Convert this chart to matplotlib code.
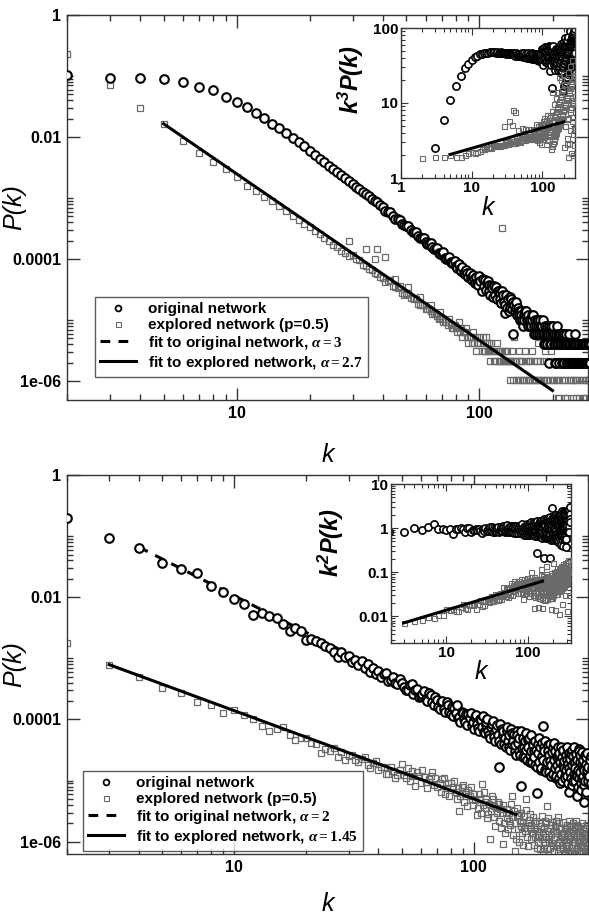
import numpy as np
import matplotlib
matplotlib.use("Agg")
import matplotlib.pyplot as plt
from matplotlib.lines import Line2D
from matplotlib.ticker import FixedLocator, LogLocator, FuncFormatter, NullFormatter

plt.rcParams["font.family"] = ["Liberation Sans", "DejaVu Sans"]
plt.rcParams["font.weight"] = "bold"
plt.rcParams["mathtext.fontset"] = "custom"
plt.rcParams["mathtext.rm"] = "Liberation Serif"
plt.rcParams["mathtext.it"] = "Liberation Serif:italic"
plt.rcParams["mathtext.bf"] = "Liberation Sans:bold:italic"
plt.rcParams["lines.scale_dashes"] = False

# ---- data: (k, P(k)) ----
# upper panel, original network
top_orig = [
    (2, 0.105), (3, 0.093), (4, 0.093), (5, 0.089), (6, 0.079), (7, 0.066), (8, 0.058), (9, 0.046), (10, 0.038),
    (11, 0.031), (12, 0.0245), (13, 0.0204), (14, 0.0166), (15, 0.0138), (16, 0.0115), (17, 0.0095), (18, 0.0082),
    (19, 0.0070), (20, 0.0060), (21, 5.1e-3), (22, 4.4e-3), (23, 3.9e-3), (24, 3.4e-3), (25, 3.0e-3), (26, 2.7e-3),
    (27, 2.35e-3), (28, 2.1e-3), (29, 1.9e-3), (30, 1.72e-3), (31, 1.52e-3), (32, 1.42e-3), (33, 1.28e-3),
    (34, 1.16e-3), (35, 1.08e-3), (36, 9.8e-4), (37, 9.0e-4), (38, 8.5e-4), (39, 7.6e-4), (40, 7.1e-4),
    (41, 6.2e-4), (42, 6.0e-4), (43, 5.9e-4), (44, 5.1e-4), (45, 4.6e-4), (46, 4.6e-4), (47, 4.4e-4), (48, 3.8e-4),
    (49, 3.6e-4), (50, 3.5e-4), (51, 3.5e-4), (52, 3.0e-4), (53, 2.8e-4), (54, 2.8e-4), (55, 2.8e-4), (56, 2.4e-4),
    (57, 2.2e-4), (58, 2.2e-4), (59, 2.2e-4), (60, 1.9e-4), (61, 1.75e-4), (62, 1.78e-4), (63, 1.85e-4),
    (64, 1.55e-4), (65, 1.45e-4), (66, 1.45e-4), (67, 1.5e-4), (68, 1.25e-4), (69, 1.2e-4), (70, 1.2e-4),
    (71, 1.3e-4), (72, 1.05e-4), (73, 1.0e-4), (74, 1.0e-4), (75, 1.08e-4), (76, 8.8e-5), (77, 8.5e-5),
    (78, 8.6e-5), (79, 9.2e-5), (80, 7.6e-5), (81, 7.2e-5), (82, 8.2e-5), (83, 7.0e-5), (84, 6.3e-5), (85, 7.3e-5),
    (86, 6.0e-5), (87, 5.6e-5), (88, 6.6e-5), (89, 5.8e-5), (90, 5.0e-5), (91, 5.9e-5), (92, 4.9e-5), (93, 4.5e-5),
    (94, 5.4e-5), (95, 4.7e-5), (96, 4.1e-5), (97, 5.0e-5), (98, 4.0e-5), (99, 3.8e-5), (100, 5.2e-5),
    (101, 4.4e-5), (102, 3.0e-5), (103, 4.8e-5), (104, 3.6e-5), (105, 4.6e-5), (106, 3.1e-5), (107, 4.0e-5),
    (108, 4.4e-5), (109, 3.8e-5), (110, 3.0e-5), (111, 2.6e-5), (112, 3.6e-5), (113, 3.4e-5), (114, 2.4e-5),
    (115, 3.6e-5), (116, 2.6e-5), (117, 3.5e-5), (118, 2.2e-5), (119, 3.0e-5), (120, 3.0e-5), (121, 2.8e-5),
    (122, 2.2e-5), (123, 1.9e-5), (124, 3.0e-5), (125, 2.6e-5), (126, 2.0e-5), (127, 1.3e-5), (128, 1.8e-5),
    (129, 2.6e-5), (130, 1.6e-5), (131, 2.2e-5), (132, 1.4e-5), (133, 2.4e-5), (134, 1.6e-5), (135, 2.2e-5),
    (136, 1.5e-5), (137, 2.0e-5), (138, 6.0e-6), (139, 1.8e-5), (140, 1.4e-5), (141, 1.6e-5), (142, 2.0e-5),
    (143, 1.2e-5), (144, 1.6e-5), (145, 1.4e-5), (146, 1.2e-5), (147, 1.0e-5), (148, 1.4e-5), (149, 1.2e-5),
    (150, 1.0e-5), (151, 8e-6), (152, 1.2e-5), (153, 1.0e-5), (154, 1.4e-5), (155, 1.2e-5), (156, 1.4e-5),
    (157, 1.0e-5), (158, 8e-6), (159, 1.2e-5), (160, 1.0e-5), (161, 8e-6), (162, 1.0e-5), (163, 8e-6),
    (164, 1.2e-5), (165, 1.0e-5), (166, 1.2e-5), (167, 6e-6), (168, 8e-6), (169, 1.0e-5), (170, 6e-6),
    (171, 8e-6), (172, 1.0e-5), (173, 6e-6), (174, 8e-6), (175, 1.0e-5), (176, 6e-6), (177, 8e-6), (178, 1.0e-5),
    (179, 6e-6), (180, 8e-6), (181, 8e-6), (182, 6e-6), (183, 1.0e-5), (184, 4e-6), (185, 6e-6), (186, 8e-6),
    (187, 4e-6), (188, 6e-6), (189, 4e-6), (190, 8e-6), (191, 6e-6), (192, 6e-6), (193, 2e-6), (194, 8e-6),
    (195, 4e-6), (196, 6e-6), (197, 8e-6), (198, 4e-6), (199, 6e-6), (200, 6e-6), (201, 8e-6), (202, 4e-6),
    (203, 6e-6), (204, 2e-6), (205, 4e-6), (206, 6e-6), (207, 2e-6), (208, 4e-6), (209, 8e-6), (210, 6e-6),
    (211, 4e-6), (212, 6e-6), (213, 2e-6), (214, 6e-6), (215, 4e-6), (216, 4e-6), (217, 4e-6), (218, 6e-6),
    (219, 2e-6), (220, 2e-6), (221, 4e-6), (222, 6e-6), (223, 6e-6), (224, 2e-6), (225, 4e-6), (226, 4e-6),
    (227, 6e-6), (228, 4e-6), (229, 2e-6), (230, 2e-6), (231, 4e-6), (232, 4e-6), (233, 2e-6), (234, 6e-6),
    (235, 4e-6), (236, 2e-6), (237, 4e-6), (238, 2e-6), (239, 2e-6), (240, 4e-6), (241, 2e-6), (242, 4e-6),
    (243, 2e-6), (244, 4e-6), (245, 2e-6), (246, 4e-6), (247, 4e-6), (248, 6e-6), (249, 2e-6), (250, 2e-6),
    (251, 4e-6), (252, 2e-6), (253, 2e-6), (254, 2e-6), (255, 4e-6), (256, 4e-6), (257, 2e-6), (258, 4e-6),
    (259, 2e-6), (260, 2e-6), (261, 4e-6), (262, 2e-6), (263, 2e-6), (264, 4e-6), (265, 2e-6), (266, 4e-6),
    (267, 2e-6), (268, 4e-6), (269, 2e-6), (270, 4e-6), (271, 4e-6), (272, 2e-6), (273, 4e-6), (274, 2e-6),
    (275, 2e-6), (276, 4e-6), (277, 2e-6), (278, 2e-6), (279, 4e-6), (280, 2e-6), (281, 2e-6), (283, 2e-6),
    (284, 4e-6), (286, 2e-6), (288, 4e-6),
]

# upper panel, explored network (p=0.5)
top_expl = [
    (2, 0.23), (3, 0.071), (4, 0.030), (5, 0.0163), (6, 0.0087), (7, 0.0055), (8, 0.0039), (9, 0.0030),
    (10, 0.0022), (11, 1.6e-3), (12, 1.3e-3), (13, 1.05e-3), (14, 8.8e-4), (15, 7.3e-4), (16, 6.1e-4),
    (17, 5.1e-4), (18, 4.4e-4), (19, 3.7e-4), (20, 3.3e-4), (21, 2.9e-4), (22, 2.55e-4), (23, 2.2e-4),
    (24, 1.95e-4), (25, 1.72e-4), (26, 1.55e-4), (27, 1.38e-4), (28, 1.24e-4), (29, 1.12e-4), (29, 2.0e-4),
    (30, 1.15e-4), (31, 1.0e-4), (32, 9.5e-5), (33, 8.0e-5), (34, 7.8e-5), (34, 1.45e-4), (35, 6.8e-5),
    (36, 6.6e-5), (37, 5.8e-5), (37, 1.0e-4), (38, 5.6e-5), (38, 1.45e-4), (39, 5.0e-5), (40, 4.9e-5),
    (41, 1.1e-4), (41, 4.2e-5), (42, 4.3e-5), (43, 4.6e-5), (44, 3.6e-5), (45, 4.8e-5), (45, 3.5e-5),
    (46, 3.3e-5), (47, 3.6e-5), (48, 2.8e-5), (49, 2.6e-5), (50, 2.7e-5), (51, 3.5e-5), (51, 2.8e-5),
    (52, 2.3e-5), (53, 2.3e-5), (54, 2.2e-5), (55, 2.2e-5), (56, 1.85e-5), (57, 2.4e-5), (57, 1.8e-5),
    (58, 1.8e-5), (59, 1.75e-5), (60, 1.52e-5), (61, 1.5e-5), (62, 1.5e-5), (63, 1.8e-5), (63, 1.4e-5),
    (64, 1.26e-5), (65, 1.3e-5), (66, 1.26e-5), (67, 1.15e-5), (68, 1.05e-5), (69, 1.36e-5), (69, 1.1e-5),
    (70, 1.05e-5), (71, 9.45e-6), (72, 9.45e-6), (73, 9.45e-6), (74, 8.4e-6), (75, 1.05e-5), (76, 8.4e-6),
    (77, 7.35e-6), (78, 7.35e-6), (79, 8.4e-6), (80, 7.35e-6), (81, 6.3e-6), (82, 9.45e-6), (83, 6.3e-6),
    (84, 7.35e-6), (85, 5.25e-6), (86, 6.3e-6), (87, 6.3e-6), (88, 7.35e-6), (89, 5.25e-6), (90, 4.2e-6),
    (91, 5.25e-6), (92, 5.25e-6), (93, 4.2e-6), (94, 6.3e-6), (95, 4.2e-6), (96, 5.25e-6), (97, 3.15e-6),
    (98, 4.2e-6), (99, 4.2e-6), (100, 5.25e-6), (101, 4.2e-6), (102, 3.15e-6), (103, 5.25e-6), (104, 3.15e-6),
    (105, 3.15e-6), (106, 5.25e-6), (107, 4.2e-6), (108, 3.15e-6), (109, 4.2e-6), (110, 3.15e-6), (111, 2.1e-6),
    (112, 4.2e-6), (113, 3.15e-6), (114, 3.15e-6), (115, 2.1e-6), (116, 2.1e-6), (117, 3.15e-6), (118, 4.2e-6),
    (119, 3.15e-6), (120, 2.1e-6), (121, 3.15e-6), (122, 2.1e-6), (123, 2.1e-6), (124, 3.15e-6), (124, 3.2e-4),
    (125, 2.1e-6), (126, 2.1e-6), (127, 3.15e-6), (128, 3.15e-6), (129, 2.1e-6), (130, 3.15e-6), (131, 2.1e-6),
    (132, 2.1e-6), (133, 1.05e-6), (134, 2.1e-6), (135, 2.1e-6), (136, 3.15e-6), (137, 1.05e-6), (138, 2.1e-6),
    (139, 5.25e-6), (140, 2.1e-6), (141, 1.05e-6), (142, 2.1e-6), (144, 1.05e-6), (145, 3.15e-6), (146, 2.1e-6),
    (147, 1.05e-6), (148, 2.1e-6), (150, 2.1e-6), (151, 1.05e-6), (152, 1.05e-6), (154, 3.15e-6), (155, 2.1e-6),
    (156, 1.05e-6), (158, 1.05e-6), (160, 2.1e-6), (161, 2.1e-6), (162, 1.05e-6), (164, 1.05e-6), (165, 3.15e-6),
    (167, 2.1e-6), (168, 1.05e-6), (170, 1.05e-6), (172, 2.1e-6), (174, 1.05e-6), (175, 4.2e-6), (176, 1.05e-6),
    (178, 2.1e-6), (180, 1.05e-6), (182, 1.05e-6), (185, 2.1e-6), (186, 3.15e-6), (188, 1.05e-6), (190, 1.05e-6),
    (192, 2.1e-6), (195, 1.05e-6), (198, 3.15e-6), (200, 1.05e-6), (203, 1.05e-6), (205, 2.1e-6), (205, 3e-7),
    (208, 1.05e-6), (210, 1.05e-6), (210, 5.25e-7), (212, 5.25e-7), (215, 2.1e-6), (218, 1.05e-6),
    (220, 3.2e-7), (222, 1.05e-6), (225, 1.05e-6), (225, 2.5e-7), (226, 5.25e-7), (230, 2.1e-6), (230, 5.25e-7),
    (233, 1.5e-7), (235, 1.05e-6), (238, 1.05e-6), (240, 2.1e-7), (242, 1.05e-6), (244, 5.25e-7), (245, 2.1e-6),
    (245, 3e-7), (248, 1.05e-6), (250, 5.25e-7), (252, 1.05e-6), (255, 1.3e-7), (256, 5.25e-7), (258, 1.05e-6),
    (260, 2.1e-6), (262, 3.2e-7), (265, 1.05e-6), (266, 5.25e-7), (268, 2e-7), (270, 5.25e-7), (272, 1.05e-6),
    (274, 1.0e-7), (275, 1.05e-6), (276, 5.25e-7), (278, 2.1e-7), (280, 1.05e-6), (282, 1.05e-6),
    (285, 1.2e-7), (286, 5.25e-7), (288, 2e-7), (289, 1.05e-6),
]

# lower panel, original network
bot_orig = [
    (2, 0.20), (3, 0.093), (4, 0.063), (5, 0.037), (6, 0.029), (7, 0.025), (8, 0.0150), (9, 0.0120),
    (10, 0.0093), (11, 0.0079), (12, 0.0052), (13, 0.0056), (14, 0.0050), (15, 0.0045), (16, 0.0037),
    (17, 0.0028), (18, 0.0031), (19, 0.0028), (20, 0.0020), (21, 0.0021), (22, 0.0019), (23, 0.0018),
    (24, 0.0016), (25, 0.0015), (26, 1.25e-3), (27, 1.05e-3), (28, 1.25e-3), (29, 1.05e-3), (30, 1.10e-3),
    (31, 8.8e-4), (32, 9.5e-4), (33, 7.8e-4), (34, 9.2e-4), (35, 7.0e-4), (36, 8.2e-4), (37, 6.0e-4),
    (38, 7.0e-4), (39, 5.5e-4), (40, 6.2e-4), (41, 5.0e-4), (42, 5.5e-4), (43, 5.8e-4), (44, 4.3e-4),
    (45, 4.4e-4), (46, 5.0e-4), (47, 4.0e-4), (48, 3.8e-4), (49, 4.6e-4), (50, 4.0e-4), (51, 3.4e-4),
    (52, 3.0e-4), (53, 3.0e-4), (54, 3.6e-4), (55, 3.8e-4), (56, 2.6e-4), (57, 3.0e-4), (58, 3.1e-4),
    (59, 2.3e-4), (60, 2.4e-4), (61, 2.6e-4), (62, 2.9e-4), (63, 2.2e-4), (64, 2.0e-4), (65, 2.7e-4),
    (66, 2.5e-4), (67, 1.9e-4), (68, 1.7e-4), (69, 2.3e-4), (70, 2.1e-4), (71, 1.6e-4), (72, 1.5e-4),
    (73, 1.95e-4), (74, 2.0e-4), (75, 1.5e-4), (76, 1.35e-4), (77, 1.9e-4), (78, 1.75e-4), (79, 1.35e-4),
    (80, 1.25e-4), (81, 1.6e-4), (82, 1.15e-4), (83, 1.55e-4), (84, 1.3e-4), (85, 1.7e-4), (86, 1.05e-4),
    (87, 1.1e-4), (88, 9.0e-5), (89, 1.35e-4), (90, 1.3e-4), (91, 1.0e-4), (92, 9.0e-5), (93, 1.25e-4),
    (94, 8.0e-5), (95, 1.25e-4), (96, 1.05e-4), (97, 1.3e-4), (98, 8.2e-5), (99, 9.0e-5), (100, 7.0e-5),
    (101, 1.10e-4), (102, 1.2e-4), (103, 8.5e-5), (104, 7.2e-5), (105, 6.5e-5), (106, 1.0e-4), (107, 9.8e-5),
    (108, 7.5e-5), (109, 1.15e-4), (110, 6.2e-5), (111, 6.0e-5), (112, 8.0e-5), (113, 9.0e-5), (114, 1.0e-4),
    (115, 6.5e-5), (116, 5.5e-5), (117, 5.0e-5), (118, 7.5e-5), (119, 8.5e-5), (120, 9.5e-5), (121, 6.0e-5),
    (122, 5.2e-5), (123, 4.5e-5), (124, 7.0e-5), (125, 8.0e-5), (126, 5.5e-5), (127, 1.7e-5), (128, 4.5e-5),
    (129, 8.5e-5), (130, 4.0e-5), (131, 7.0e-5), (132, 5.5e-5), (133, 6.5e-5), (134, 4.0e-5), (135, 5.0e-5),
    (136, 3.5e-5), (137, 6.5e-5), (138, 7.5e-5), (139, 4.5e-5), (140, 3.5e-5), (141, 5.5e-5), (142, 3.2e-5),
    (143, 7.0e-5), (144, 6.0e-5), (145, 4.0e-5), (146, 4.5e-5), (147, 5.8e-5), (148, 3.0e-5), (149, 3.8e-5),
    (150, 2.6e-5), (151, 6.5e-5), (152, 5.5e-5), (153, 4.2e-5), (154, 3.0e-5), (155, 5.0e-5), (156, 2.6e-5),
    (157, 6.5e-5), (158, 8.3e-6), (159, 3.4e-5), (160, 5.0e-5), (161, 2.4e-5), (162, 3.6e-5), (163, 4.5e-5),
    (164, 2.4e-5), (165, 3.2e-5), (166, 6.0e-5), (167, 2.2e-5), (168, 4.6e-5), (169, 3.5e-5), (170, 5.0e-5),
    (171, 2.6e-5), (172, 2.0e-5), (173, 3.0e-5), (174, 5.5e-5), (175, 2.0e-5), (176, 4.2e-5), (177, 3.8e-5),
    (178, 3.0e-5), (179, 2.4e-5), (180, 1.8e-5), (181, 4.5e-5), (182, 3.2e-5), (183, 6.3e-6), (184, 1.7e-5),
    (185, 4.0e-5), (186, 2.8e-5), (187, 5.0e-5), (188, 2.0e-5), (189, 3.5e-5), (190, 1.5e-5), (191, 1.6e-5),
    (192, 2.5e-5), (193, 4.2e-5), (194, 2.2e-5), (195, 7.7e-5), (196, 3.6e-5), (197, 3.0e-5), (198, 1.5e-5),
    (199, 4.5e-5), (200, 1.4e-5), (202, 2.0e-5), (204, 3.8e-5), (205, 3.0e-5), (206, 1.4e-5), (207, 2.6e-5),
    (208, 2.1e-5), (209, 4.0e-5), (210, 1.2e-5), (211, 1.8e-5), (213, 2.9e-5), (214, 1.3e-5), (215, 3.5e-5),
    (216, 2.2e-5), (217, 4.2e-5), (218, 1.6e-5), (219, 3.0e-5), (220, 1.1e-5), (221, 1.2e-5), (222, 1.8e-5),
    (223, 2.4e-5), (224, 3.6e-5), (225, 2.6e-5), (226, 1.5e-5), (227, 1.1e-5), (228, 2.8e-5), (229, 2.0e-5),
    (230, 9.0e-6), (231, 3.5e-5), (232, 1.3e-5), (233, 2.4e-5), (234, 1.0e-5), (235, 3.0e-5), (236, 1.8e-5),
    (237, 3.2e-5), (238, 1.6e-5), (239, 2.1e-5), (240, 1.2e-5), (241, 1.1e-5), (242, 2.6e-5), (243, 1.5e-5),
    (244, 3.6e-5), (245, 2.2e-5), (246, 1.2e-5), (247, 1.9e-5), (248, 9.0e-6), (249, 2.8e-5), (250, 6.5e-6),
    (251, 1.6e-5), (252, 1.4e-5), (253, 2.3e-5), (254, 1.1e-5), (255, 2.7e-5), (256, 3.2e-5), (257, 1.8e-5),
    (258, 8.5e-6), (259, 2.5e-5), (260, 1.0e-5), (261, 1.3e-5), (262, 2.0e-5), (263, 3.5e-5), (264, 1.0e-5),
    (265, 2.0e-5), (266, 1.6e-5), (267, 2.7e-5), (268, 1.25e-5), (269, 1.2e-5), (270, 5.5e-6), (271, 2.2e-5),
    (272, 8.0e-6), (273, 1.5e-5), (274, 3.3e-5), (275, 3.0e-5), (276, 1.1e-5), (277, 2.0e-5), (278, 1.4e-5),
    (279, 2.6e-5), (280, 9.0e-6), (281, 7.0e-6), (282, 1.1e-5), (283, 1.8e-5), (284, 2.9e-5), (285, 1.6e-5),
    (286, 1.2e-5), (287, 2.2e-5), (288, 8.5e-6), (289, 1.5e-5), (290, 4.5e-6), (291, 2.6e-5), (292, 1.0e-5),
    (293, 1.9e-5), (294, 6.5e-6), (295, 2.4e-5), (296, 1.3e-5), (297, 2.8e-5), (298, 1.5e-5), (299, 1.7e-5),
    (300, 1.0e-5), (302, 1.2e-5), (305, 2.2e-5), (308, 9.0e-6), (310, 2.5e-5), (312, 1.6e-5), (315, 2.6e-5),
    (318, 1.1e-5), (320, 8.0e-6), (322, 2.0e-5), (325, 1.5e-5), (328, 1.3e-5), (330, 2.8e-5),
]

# lower panel, explored network (p=0.5)
bot_expl = [
    (2, 0.0018), (3, 7.9e-4), (4, 4.9e-4), (5, 3.3e-4), (6, 2.7e-4), (7, 1.9e-4), (8, 1.7e-4), (9, 1.3e-4),
    (10, 1.45e-4), (11, 1.17e-4), (12, 1.0e-4), (13, 7.9e-5), (14, 6.6e-5), (15, 7.1e-5), (16, 7.4e-5),
    (17, 5.5e-5), (18, 4.6e-5), (19, 5.0e-5), (20, 4.9e-5), (21, 4.1e-5), (22, 3.9e-5), (23, 2.8e-5),
    (24, 3.3e-5), (25, 3.0e-5), (26, 3.4e-5), (27, 2.4e-5), (28, 2.9e-5), (29, 2.2e-5), (30, 2.5e-5),
    (31, 2.6e-5), (32, 2.2e-5), (33, 2.0e-5), (34, 2.3e-5), (35, 2.4e-5), (36, 1.8e-5), (37, 1.6e-5),
    (38, 1.95e-5), (39, 2.1e-5), (40, 1.5e-5), (41, 1.7e-5), (42, 1.7e-5), (43, 1.3e-5), (44, 1.3e-5),
    (45, 1.7e-5), (46, 1.45e-5), (47, 1.1e-5), (48, 1.25e-5), (49, 1.5e-5), (50, 1.9e-5), (51, 1.25e-5),
    (52, 1.1e-5), (53, 1.6e-5), (54, 1.0e-5), (55, 1.45e-5), (56, 1.2e-5), (57, 8.3e-6), (58, 1.4e-5),
    (59, 1.2e-5), (60, 9.0e-6), (61, 1.5e-5), (62, 1.15e-5), (63, 9.5e-6), (64, 7.5e-6), (65, 1.05e-5),
    (66, 1.2e-5), (67, 1.4e-5), (68, 8.5e-6), (69, 1.1e-5), (70, 8.0e-6), (72, 9.0e-6), (73, 6.5e-6),
    (74, 1.05e-5), (75, 1.1e-5), (76, 6.0e-6), (77, 7.5e-6), (78, 9.0e-6), (79, 5.5e-6), (80, 9.0e-6),
    (82, 8.0e-6), (83, 1.0e-5), (84, 6.5e-6), (85, 5.0e-6), (86, 7.5e-6), (87, 3.2e-6), (88, 5.5e-6),
    (89, 7.8e-6), (90, 8.5e-6), (91, 4.5e-6), (92, 6.0e-6), (93, 6.5e-6), (94, 3.8e-6), (95, 7.0e-6),
    (96, 5.5e-6), (97, 8.0e-6), (98, 5.0e-6), (99, 4.0e-6), (100, 6.0e-6), (101, 4.8e-6), (103, 2.7e-6),
    (104, 3.5e-6), (105, 6.0e-6), (106, 5.0e-6), (107, 3.0e-6), (108, 8.9e-6), (109, 4.0e-6), (110, 6.5e-6),
    (111, 4.5e-6), (112, 3.6e-6), (113, 5.0e-6), (114, 2.4e-6), (115, 2.8e-6), (116, 4.2e-6), (117, 1.12e-6),
    (118, 3.2e-6), (119, 5.5e-6), (120, 5.0e-6), (121, 2.5e-6), (122, 3.8e-6), (123, 1.8e-6), (124, 3.5e-6),
    (125, 3.0e-6), (126, 4.5e-6), (127, 2.2e-6), (128, 4.2e-6), (129, 3.4e-6), (130, 1.7e-6), (131, 2.9e-6),
    (132, 9.3e-7), (133, 4.0e-6), (134, 2.0e-6), (135, 1.4e-6), (136, 3.0e-6), (137, 3.4e-6), (138, 2.4e-6),
    (139, 1.6e-6), (140, 2.2e-6), (141, 3.0e-6), (142, 1.9e-6), (143, 4.2e-6), (144, 5.6e-6), (145, 2.5e-6),
    (146, 1.3e-6), (147, 3.2e-6), (148, 7.0e-7), (149, 2.0e-6), (150, 1.1e-6), (151, 3.6e-6), (152, 2.6e-6),
    (153, 1.6e-6), (154, 2.7e-6), (155, 1.0e-6), (156, 2.2e-6), (157, 1.8e-6), (158, 3.0e-6), (159, 1.4e-6),
    (160, 2.0e-6), (161, 9.0e-7), (162, 2.6e-6), (163, 1.7e-6), (164, 1.5e-6), (165, 3.3e-6), (166, 5.0e-6),
    (167, 1.2e-6), (168, 2.0e-6), (169, 8.5e-7), (170, 2.3e-6), (171, 1.7e-6), (172, 2.8e-6), (173, 1.1e-6),
    (174, 1.9e-6), (175, 1.4e-6), (176, 1.4e-6), (177, 2.5e-6), (178, 9.0e-7), (179, 1.6e-6), (180, 2.0e-6),
    (181, 1.2e-6), (182, 2.2e-6), (183, 8.0e-7), (184, 1.5e-6), (185, 1.2e-6), (186, 1.0e-6), (187, 2.0e-6),
    (188, 1.3e-6), (189, 7.5e-7), (190, 1.6e-6), (190, 4.0e-7), (191, 1.8e-6), (192, 1.1e-6), (193, 2.6e-6),
    (194, 7.1e-7), (195, 1.4e-6), (196, 8.0e-7), (197, 1.7e-6), (198, 2.2e-6), (199, 1.0e-6), (200, 2.0e-6),
    (201, 1.2e-6), (202, 3.9e-6), (203, 7.5e-7), (204, 1.5e-6), (205, 2.4e-6), (206, 1.0e-6), (207, 1.1e-6),
    (208, 1.7e-6), (209, 8.0e-7), (210, 1.9e-6), (211, 1.3e-6), (212, 2.1e-6), (213, 9.5e-7), (214, 1.5e-6),
    (215, 8.5e-7), (215, 3.0e-7), (216, 1.1e-6), (217, 7.0e-7), (218, 1.8e-6), (219, 1.2e-6), (220, 1.5e-6),
    (221, 2.2e-6), (222, 9.0e-7), (223, 1.4e-6), (224, 6.5e-7), (225, 2.5e-6), (226, 1.6e-6), (227, 1.0e-6),
    (228, 2.0e-6), (229, 7.5e-7), (230, 1.1e-6), (231, 1.3e-6), (232, 1.7e-6), (233, 9.0e-7), (234, 1.2e-6),
    (235, 7.5e-7), (236, 2.1e-6), (237, 8.0e-7), (238, 1.4e-6), (239, 1.1e-6), (240, 1.7e-6), (240, 2.0e-7),
    (241, 6.5e-7), (242, 1.6e-6), (243, 1.0e-6), (244, 1.9e-6), (245, 1.0e-6), (246, 8.5e-7), (247, 1.3e-6),
    (248, 7.0e-7), (249, 1.5e-6), (250, 2.2e-6), (251, 1.1e-6), (252, 1.8e-6), (253, 6.5e-7), (254, 1.2e-6),
    (255, 8.0e-7), (256, 9.0e-7), (257, 1.5e-6), (258, 7.0e-7), (259, 2.0e-6), (260, 1.4e-6), (260, 2.8e-7),
    (261, 1.0e-6), (262, 1.3e-6), (263, 6.5e-7), (264, 1.7e-6), (265, 6.5e-7), (266, 9.0e-7), (267, 1.2e-6),
    (268, 2.2e-6), (269, 7.5e-7), (270, 1.9e-6), (271, 1.4e-6), (272, 1.0e-6), (273, 1.8e-6), (274, 6.5e-7),
    (275, 1.0e-6), (276, 1.3e-6), (277, 8.5e-7), (278, 1.6e-6), (279, 1.1e-6), (280, 7.0e-7), (280, 4.0e-7),
    (281, 6.8e-7), (282, 1.4e-6), (283, 9.0e-7), (284, 2.0e-6), (285, 1.6e-6), (286, 1.0e-6), (287, 6.5e-7),
    (288, 1.3e-6), (289, 8.0e-7), (290, 1.2e-6), (291, 1.7e-6), (292, 1.1e-6), (293, 7.0e-7), (294, 1.4e-6),
    (295, 7.5e-7), (296, 9.0e-7), (297, 1.9e-6), (298, 1.2e-6), (299, 6.8e-7), (300, 1.3e-6), (300, 1.5e-7),
    (305, 1.1e-6), (310, 2.0e-6), (315, 8.0e-7), (320, 1.0e-6), (320, 3.0e-7), (325, 1.4e-6), (330, 1.6e-6),
]

# fitted power laws, end points as drawn
top_fit_orig = [(20, 5.6e-3), (100, 4.5e-5)]     # alpha = 3
top_fit_expl = [(5, 1.65e-2), (200, 7.0e-7)]     # alpha = 2.7
bot_fit_orig = [(4, 0.066), (40, 6.6e-4)]        # alpha = 2
bot_fit_expl = [(3, 7.9e-4), (150, 2.8e-6)]      # alpha = 1.45

top_labels = ["original network", "explored network (p=0.5)",
              r"fit to original network, $\alpha=3$", r"fit to explored network, $\alpha=2.7$"]
bot_labels = ["original network", "explored network (p=0.5)",
              r"fit to original network, $\alpha=2$", r"fit to explored network, $\alpha=1.45$"]

W, H = 589, 918
fig = plt.figure(figsize=(W / 100, H / 100), dpi=100)


def px_axes(l, t, r, b):
    return fig.add_axes([l / W, 1 - b / H, (r - l) / W, (b - t) / H])


def cols(pairs):
    a = np.array(pairs, dtype=float)
    return a[:, 0], a[:, 1]


gfmt = FuncFormatter(lambda v, pos: "%g" % v)
circ = dict(ls="none", marker="o", mfc="white", mec="black")
sq = dict(ls="none", marker="s", mfc="none", mec="#6a6a6a")


def style(ax, big):
    ax.set_xscale("log")
    ax.set_yscale("log")
    for s in ax.spines.values():
        s.set_color("#333333")
        s.set_linewidth(1.0)
    ax.xaxis.set_major_formatter(gfmt)
    ax.yaxis.set_major_formatter(gfmt)
    ax.xaxis.set_minor_formatter(NullFormatter())
    ax.yaxis.set_minor_formatter(NullFormatter())
    if big:
        ax.tick_params(which="major", length=9, width=1, labelsize=11.5, pad=4)
        ax.tick_params(which="minor", length=4.5, width=1)
    else:
        ax.tick_params(which="major", length=5, width=0.8, labelsize=11, pad=2)
        ax.tick_params(which="minor", length=3, width=0.8)
    ax.tick_params(which="both", direction="in", top=True, right=True, colors="#333333", labelcolor="black")


def main_panel(ax, orig, expl, fit_o, fit_e, xmax, ymin):
    ko, po = cols(orig)
    ke, pe = cols(expl)
    ax.plot(ke, pe, ms=4.5, mew=0.9, zorder=2, **sq)
    fo_k, fo_p = cols(fit_o)
    ax.plot(fo_k, fo_p, color="black", lw=2.2, dashes=(7, 6), zorder=3)
    ax.plot(ko, po, ms=6.2, mew=1.5, zorder=4, **circ)
    fe_k, fe_p = cols(fit_e)
    ax.plot(fe_k, fe_p, color="black", lw=2.2, zorder=5)
    style(ax, True)
    ax.set_xlim(2, xmax)
    ax.set_ylim(ymin, 1)
    ax.yaxis.set_major_locator(FixedLocator([1e-6, 1e-4, 1e-2, 1]))
    ax.yaxis.set_minor_locator(FixedLocator([m * 10.0 ** e for e in (-6, -4, -2) for m in range(2, 11)]))
    ax.xaxis.set_major_locator(FixedLocator([10, 100]))
    ax.xaxis.set_minor_locator(LogLocator(base=10, subs=np.arange(2, 10), numticks=20))
    ax.set_xlabel("k", fontsize=18, fontstyle="italic")
    ax.set_ylabel("P(k)", fontsize=18, fontstyle="italic")
    ax.yaxis.set_label_coords(-0.078, 0.5)
    handles = [
        Line2D([], [], ms=4.2, mew=1.3, **circ),
        Line2D([], [], ms=3.6, mew=0.8, **sq),
        Line2D([], [], color="black", lw=2.2, dashes=(7, 6)),
        Line2D([], [], color="black", lw=2.2),
    ]
    return handles


def add_legend(ax, handles, labels, x0, y0):
    leg = ax.legend(handles, labels, loc="lower left", bbox_to_anchor=(x0, y0), borderaxespad=0,
                    fancybox=False, edgecolor="#333333", handlelength=2.3, handletextpad=0.8,
                    labelspacing=0.12, borderpad=0.35, prop={"weight": "bold", "size": 11})
    leg.get_frame().set_linewidth(1.0)
    leg.set_zorder(10)


# upper panel
ax1 = px_axes(67, 15, 588, 400)
h = main_panel(ax1, top_orig, top_expl, top_fit_orig, top_fit_expl, 280, 4.9e-7)
ax1.xaxis.set_label_coords(0.5, -0.112)
add_legend(ax1, h, top_labels, 0.054, 0.06)

# lower panel
ax2 = px_axes(67, 475, 588, 854)
h = main_panel(ax2, bot_orig, bot_expl, bot_fit_orig, bot_fit_expl, 300, 6.3e-7)
ax2.xaxis.set_label_coords(0.5, -0.1)
add_legend(ax2, h, bot_labels, 0.031, 0.008)


def inset(ax, orig, expl, fit_e, power, xlim, ylim, ylabel):
    ko, po = cols(orig)
    ke, pe = cols(expl)
    fk, fp = cols(fit_e)
    ax.plot(ko, ko ** power * po, ms=5.2, mew=1.2, zorder=2, **circ)
    ax.plot(ke, ke ** power * pe, ms=3.6, mew=0.8, zorder=3, **sq)
    ax.plot(fk, fk ** power * fp, color="black", lw=2.2, zorder=4)
    style(ax, False)
    ax.set_xlim(*xlim)
    ax.set_ylim(*ylim)
    ax.xaxis.set_major_locator(LogLocator(base=10, numticks=10))
    ax.yaxis.set_major_locator(LogLocator(base=10, numticks=10))
    ax.xaxis.set_minor_locator(LogLocator(base=10, subs=np.arange(2, 10), numticks=20))
    ax.yaxis.set_minor_locator(LogLocator(base=10, subs=np.arange(2, 10), numticks=20))
    ax.set_xlabel("k", fontsize=18, fontstyle="italic")
    ax.set_ylabel(ylabel, fontsize=17)


in1 = px_axes(401, 28, 575, 178)
inset(in1, top_orig, top_expl, top_fit_expl, 3, (1, 290), (1, 100), r"$\mathbf{k^3P(k)}$")
in1.yaxis.set_label_coords(-0.2, 0.66)
in1.xaxis.set_label_coords(0.5, -0.12)

in2 = px_axes(391, 484, 571, 643)
inset(in2, bot_orig, bot_expl, bot_fit_expl, 2, (2.1, 335), (2.5e-3, 10), r"$\mathbf{k^2P(k)}$")
in2.yaxis.set_label_coords(-0.25, 0.63)
in2.xaxis.set_label_coords(0.5, -0.11)

fig.savefig("out.png", dpi=100)
